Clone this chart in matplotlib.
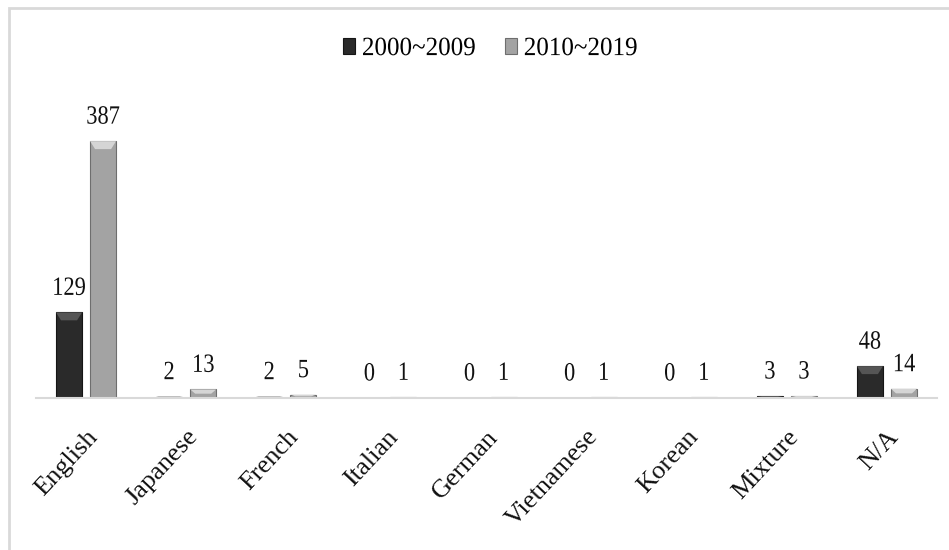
import matplotlib.pyplot as plt
import matplotlib.patches as mpatches
from matplotlib.patheffects import AbstractPathEffect
from matplotlib.transforms import Affine2D
import numpy as np

plt.rcParams['font.family'] = ['Liberation Serif', 'DejaVu Serif']

# data
idiomas = ['English', 'Japanese', 'French', 'Italian', 'German',
           'Vietnamese', 'Korean', 'Mixture', 'N/A']
serie_2000 = [129, 2, 2, 0, 0, 0, 0, 3, 48]
serie_2010 = [387, 13, 5, 1, 1, 1, 1, 3, 14]
etiquetas = ['2000~2009', '2010~2019']


class Estrecho(AbstractPathEffect):
    """Comprime el texto en horizontal (letra alta y estrecha)."""
    def __init__(self, s=0.88, ancla='center'):
        super().__init__()
        self.s = s
        self.ancla = ancla

    def draw_path(self, renderer, gc, tpath, affine, rgbFace=None):
        ext = tpath.get_extents(affine)
        cx = ext.x0 if self.ancla == 'left' else (ext.x0 + ext.x1) / 2
        aff = affine + Affine2D().translate(-cx, 0).scale(self.s, 1).translate(cx, 0)
        renderer.draw_path(gc, tpath, aff, rgbFace)


fig = plt.figure(figsize=(9.49, 5.5), dpi=100)
ax = fig.add_axes([36 / 949, 1 - 398 / 550, 901 / 949, 298 / 550])

# marco exterior
fig.patches.append(mpatches.Rectangle((0.009, -0.01), 1.0, 0.995,
                                      transform=fig.transFigure, fill=False,
                                      edgecolor='#d9d9d9', linewidth=2))

x = np.arange(len(idiomas))
ancho = 0.26
sep = 0.34

b1 = ax.bar(x - sep / 2, serie_2000, ancho, color='#2a2a2a',
            edgecolor='#151515', linewidth=0.8, label=etiquetas[0])
b2 = ax.bar(x + sep / 2, serie_2010, ancho, color='#a3a3a3',
            edgecolor='#6e6e6e', linewidth=0.8, label=etiquetas[1])

# bisel superior de las barras
for barras, claro in [(b1, '#555555'), (b2, '#d5d5d5')]:
    for b in barras:
        h = b.get_height()
        if h <= 0:
            continue
        x0, w = b.get_x(), b.get_width()
        d = min(12, h / 2)
        m = 0.05
        ax.add_patch(mpatches.Polygon([(x0, h), (x0 + w, h), (x0 + w - m, h - d),
                                       (x0 + m, h - d)], closed=True,
                                      facecolor=claro, edgecolor='none'))

for barras, vals in [(b1, serie_2000), (b2, serie_2010)]:
    for b, v in zip(barras, vals):
        ax.annotate(str(v), (b.get_x() + b.get_width() / 2, v),
                    xytext=(0, 9), textcoords='offset points',
                    ha='center', va='bottom', fontsize=19, color='#111111',
                    path_effects=[Estrecho(0.85)])

ax.set_xlim(-0.5, len(idiomas) - 0.5)
ax.set_ylim(0, 449)
ax.set_yticks([])
ax.set_xticks(x)
ax.set_xticklabels(idiomas, rotation=47, ha='right', rotation_mode='anchor',
                   fontsize=19, color='#111111')
ax.tick_params(axis='x', length=0, pad=20)
for s in ['top', 'right', 'left']:
    ax.spines[s].set_visible(False)
ax.spines['bottom'].set_color('#d9d9d9')
ax.spines['bottom'].set_linewidth(1.5)

ley = fig.legend(loc='center', bbox_to_anchor=(0.52, 0.911), ncol=2,
                 frameon=False, fontsize=19, handlelength=0.45,
                 handleheight=0.55, handletextpad=0.25, columnspacing=0.9)
for t in ley.get_texts():
    t.set_path_effects([Estrecho(0.95, 'left')])

fig.savefig('out.png', dpi=100)
